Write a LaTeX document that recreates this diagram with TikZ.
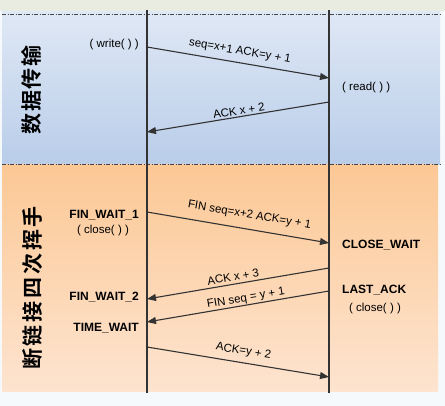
\documentclass[tikz,border=0pt]{standalone}
\usepackage{fontspec}
\setmainfont{Liberation Sans}
\newfontfamily\cjk{Noto Sans CJK SC}[BoldFont={* Bold}]
\usetikzlibrary{arrows.meta}
\definecolor{bgcol}{HTML}{F6F9FC}
\definecolor{topstrip}{HTML}{E9ECE0}
\definecolor{blueT}{HTML}{DFE8F5}
\definecolor{blueB}{HTML}{B9CDE9}
\definecolor{orT}{HTML}{FCC895}
\definecolor{orB}{HTML}{FDE4D0}
\definecolor{linecol}{HTML}{333333}
\tikzset{
  lifeline/.style={draw=linecol, line width=1.1pt},
  sepline/.style={draw=linecol!90, line width=0.9pt, dash pattern=on 4pt off 1.5pt on 1pt off 1.5pt},
  msg/.style={draw=linecol, line width=1.1pt, -{Triangle[length=9pt,width=7pt]}},
  msglabel/.style={font=\fontsize{11.5}{13}\selectfont, inner sep=0.3pt, sloped, text=black},
  state/.style={font=\fontsize{12}{14}\selectfont\bfseries, inner sep=0pt, text=black},
  call/.style={font=\fontsize{11.5}{13}\selectfont, inner sep=0pt, text=black},
  phase/.style={font=\cjk\bfseries\fontsize{21}{21}\selectfont, rotate=90, inner sep=0pt, text=black}
}
\begin{document}
\begin{tikzpicture}[x=1pt,y=-1pt]
\useasboundingbox (0,0) rectangle (445,406);
\fill[bgcol] (0,0) rectangle (445,406);
\fill[topstrip] (0,0) rectangle (445,11);
\shade[top color=blueT, bottom color=blueB] (2,12) rectangle (440,164.5);
\shade[top color=orT, bottom color=orB] (2,164.5) rectangle (438,392);
\draw[sepline] (2,14.5) -- (440,14.5);
\draw[sepline] (2,164.5) -- (440,164.5);
% lifelines
\coordinate (Ltop) at (147,10);
\coordinate (Lbot) at (147,393);
\coordinate (Rtop) at (329,10);
\coordinate (Rbot) at (329,393);
\draw[lifeline] (Ltop) -- (Lbot);
\draw[lifeline] (Rtop) -- (Rbot);
% message endpoints
\coordinate (a1s) at (147,47);  \coordinate (a1e) at (329,78);
\coordinate (a2s) at (329,102); \coordinate (a2e) at (147,132);
\coordinate (a3s) at (147,212); \coordinate (a3e) at (329,243);
\coordinate (a4s) at (329,268); \coordinate (a4e) at (147,299);
\coordinate (a5s) at (329,291); \coordinate (a5e) at (147,322);
\coordinate (a6s) at (147,347); \coordinate (a6e) at (329,377);
\draw[msg] (a1s) -- node[msglabel, pos=0.5, above=5pt] (m1) {seq=x+1 ACK=y + 1} (a1e);
\draw[msg] (a2s) -- node[msglabel, pos=0.49, above=1pt] (m2) {ACK x + 2} (a2e);
\draw[msg] (a3s) -- node[msglabel, pos=0.55, above=8pt] (m3) {FIN seq=x+2 ACK=y + 1} (a3e);
\draw[msg] (a4s) -- node[msglabel, pos=0.52, above=2.5pt] (m4) {ACK x + 3} (a4e);
\draw[msg] (a5s) -- node[msglabel, pos=0.45, above=0.5pt] (m5) {FIN seq = y + 1} (a5e);
\draw[msg] (a6s) -- node[msglabel, pos=0.52, above=5pt] (m6) {ACK=y + 2} (a6e);
% calls and states
\node[call, anchor=east] (write) at (139,45) {( write( ) )};
\node[call, anchor=west] (read) at (342,88) {( read( ) )};
\node[state, anchor=east] (fw1) at (139,215) {FIN\_WAIT\_1};
\node[call] (close1) at (103,231) {( close( ) )};
\node[state, anchor=east] (fw2) at (139,297) {FIN\_WAIT\_2};
\node[state, anchor=east] (tw) at (139,328) {TIME\_WAIT};
\node[state, anchor=west] (cw) at (342,245) {CLOSE\_WAIT};
\node[state, anchor=west] (la) at (342,290) {LAST\_ACK};
\node[call] (close2) at (375,309) {( close( ) )};
% phase titles
\node[phase] (p1) at (31,90) {数\kern1.5pt 据\kern1.5pt 传\kern1.5pt 输};
\node[phase] (p2) at (33,288) {断\kern2.8pt 链\kern2.8pt 接\kern2.8pt 四\kern2.8pt 次\kern2.8pt 挥\kern2.8pt 手};
\end{tikzpicture}
\end{document}
